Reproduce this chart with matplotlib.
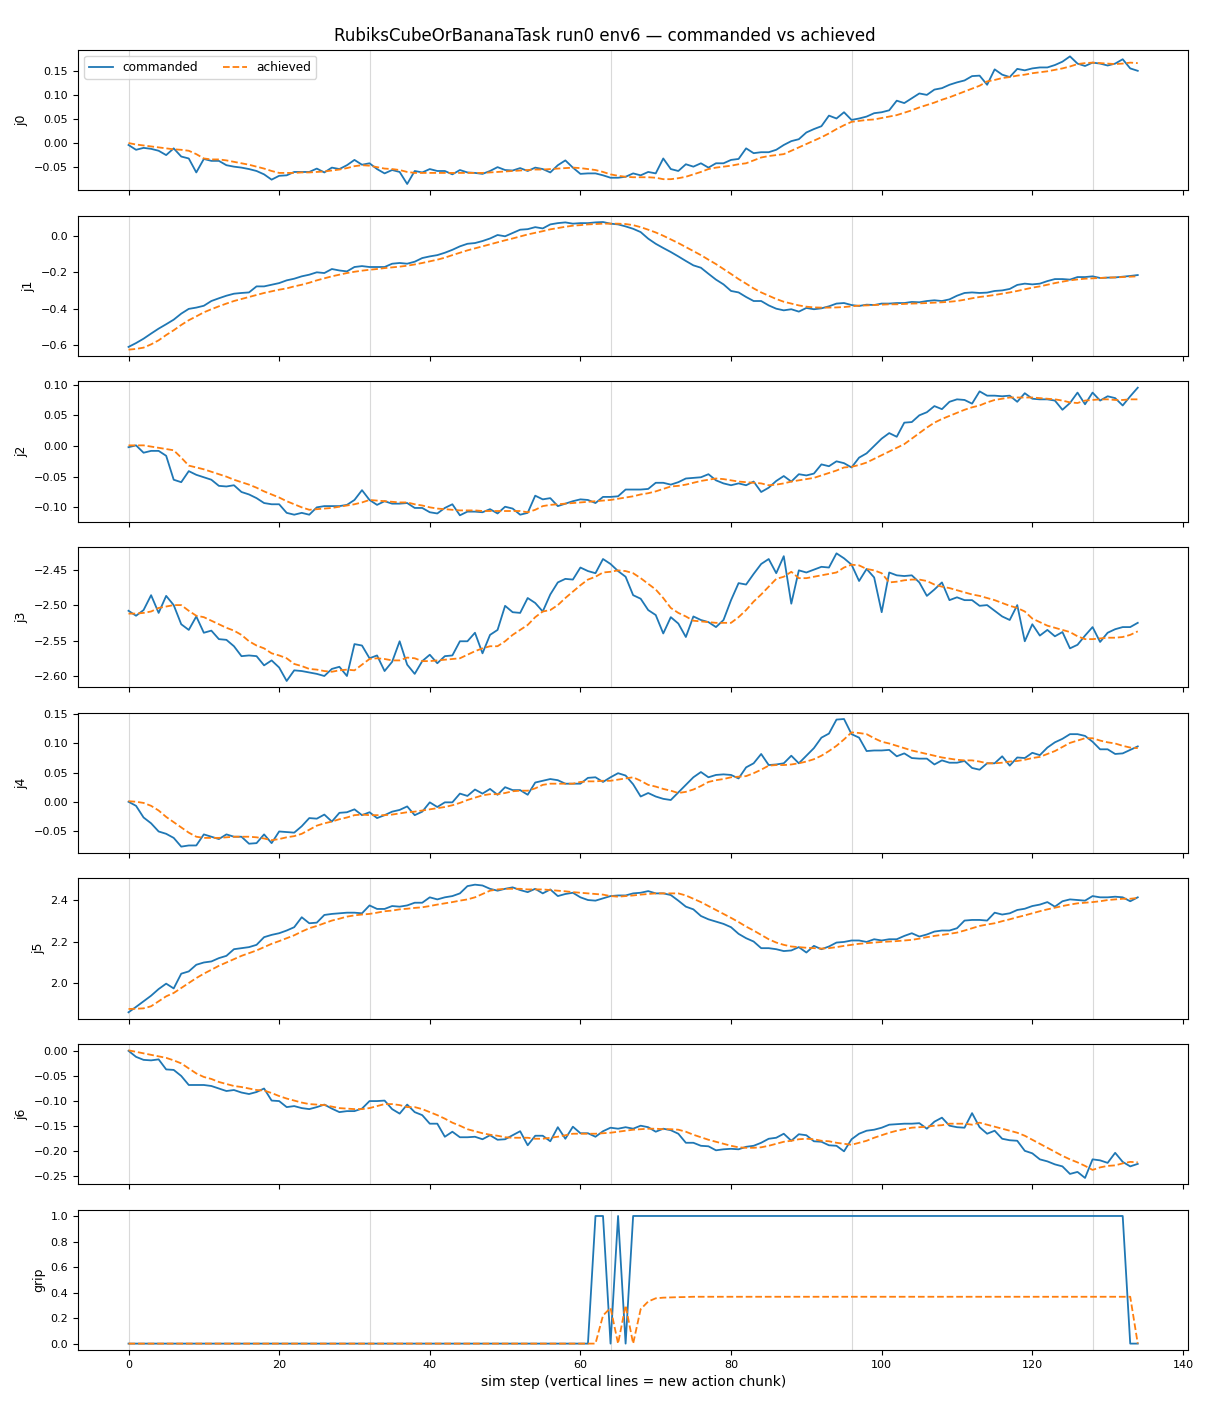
import numpy as np
import matplotlib
matplotlib.use("Agg")
import matplotlib.pyplot as plt

TITLE = "RubiksCubeOrBananaTask run0 env6 \u2014 commanded vs achieved"
JOINT_NAMES = ["j0", "j1", "j2", "j3", "j4", "j5", "j6", "grip"]
CHUNK_STARTS = [0, 32, 64, 96, 128]

# commanded / achieved per joint, one value per sim step (0..134)
j0_cmd = [
    -0.004, -0.014, -0.010, -0.012, -0.016, -0.025, -0.011, -0.028, -0.032, -0.061,
    -0.033, -0.037, -0.037, -0.046, -0.049, -0.051, -0.054, -0.058, -0.065, -0.076,
    -0.068, -0.067, -0.060, -0.060, -0.060, -0.053, -0.061, -0.051, -0.054, -0.046,
    -0.035, -0.045, -0.042, -0.054, -0.063, -0.056, -0.060, -0.085, -0.058, -0.061,
    -0.054, -0.058, -0.058, -0.065, -0.056, -0.061, -0.062, -0.064, -0.058, -0.050,
    -0.056, -0.057, -0.052, -0.058, -0.051, -0.054, -0.061, -0.046, -0.036, -0.051,
    -0.064, -0.063, -0.063, -0.067, -0.072, -0.072, -0.070, -0.063, -0.067, -0.060,
    -0.063, -0.032, -0.054, -0.058, -0.044, -0.049, -0.042, -0.051, -0.042, -0.042,
    -0.035, -0.033, -0.011, -0.021, -0.019, -0.019, -0.014, -0.004, 0.004, 0.008,
    0.022, 0.029, 0.035, 0.057, 0.051, 0.064, 0.048, 0.051, 0.055, 0.062,
    0.064, 0.068, 0.088, 0.083, 0.093, 0.103, 0.100, 0.111, 0.114, 0.121,
    0.126, 0.130, 0.139, 0.140, 0.121, 0.153, 0.142, 0.137, 0.154, 0.151,
    0.155, 0.157, 0.157, 0.162, 0.169, 0.180, 0.165, 0.160, 0.167, 0.165,
    0.161, 0.165, 0.174, 0.155, 0.150,
]
j0_ach = [
    0.000, -0.003, -0.005, -0.007, -0.009, -0.011, -0.013, -0.014, -0.016, -0.023,
    -0.032, -0.034, -0.034, -0.036, -0.039, -0.042, -0.045, -0.049, -0.053, -0.058,
    -0.062, -0.062, -0.062, -0.061, -0.061, -0.060, -0.059, -0.057, -0.055, -0.052,
    -0.048, -0.046, -0.047, -0.050, -0.053, -0.054, -0.056, -0.060, -0.062, -0.062,
    -0.062, -0.062, -0.062, -0.062, -0.062, -0.062, -0.062, -0.062, -0.061, -0.060,
    -0.059, -0.058, -0.057, -0.056, -0.055, -0.055, -0.054, -0.053, -0.052, -0.051,
    -0.052, -0.054, -0.056, -0.060, -0.065, -0.068, -0.070, -0.071, -0.071, -0.071,
    -0.072, -0.075, -0.075, -0.073, -0.070, -0.065, -0.060, -0.054, -0.051, -0.049,
    -0.047, -0.044, -0.042, -0.036, -0.030, -0.027, -0.025, -0.023, -0.016, -0.009,
    -0.002, 0.005, 0.012, 0.020, 0.029, 0.037, 0.044, 0.046, 0.048, 0.049,
    0.052, 0.055, 0.058, 0.063, 0.068, 0.074, 0.079, 0.084, 0.090, 0.095,
    0.101, 0.107, 0.113, 0.119, 0.128, 0.131, 0.135, 0.137, 0.140, 0.142,
    0.145, 0.147, 0.149, 0.152, 0.155, 0.159, 0.164, 0.166, 0.167, 0.166,
    0.165, 0.164, 0.165, 0.167, 0.166,
]

j1_cmd = [
    -0.608, -0.587, -0.563, -0.535, -0.508, -0.484, -0.459, -0.426, -0.400, -0.393,
    -0.383, -0.357, -0.342, -0.328, -0.317, -0.313, -0.310, -0.277, -0.277, -0.268,
    -0.259, -0.244, -0.235, -0.222, -0.213, -0.200, -0.204, -0.182, -0.190, -0.195,
    -0.171, -0.166, -0.171, -0.171, -0.171, -0.153, -0.149, -0.153, -0.142, -0.122,
    -0.113, -0.106, -0.093, -0.077, -0.058, -0.044, -0.040, -0.029, -0.015, 0.004,
    -0.003, 0.015, 0.033, 0.036, 0.047, 0.040, 0.062, 0.069, 0.073, 0.066,
    0.069, 0.069, 0.073, 0.075, 0.066, 0.062, 0.051, 0.038, 0.020, -0.016,
    -0.044, -0.067, -0.089, -0.113, -0.138, -0.162, -0.175, -0.208, -0.240, -0.266,
    -0.302, -0.310, -0.335, -0.357, -0.357, -0.381, -0.399, -0.408, -0.402, -0.415,
    -0.395, -0.402, -0.397, -0.386, -0.371, -0.368, -0.379, -0.384, -0.377, -0.379,
    -0.371, -0.371, -0.368, -0.368, -0.362, -0.364, -0.357, -0.353, -0.357, -0.348,
    -0.328, -0.313, -0.310, -0.313, -0.311, -0.302, -0.299, -0.291, -0.269, -0.262,
    -0.266, -0.262, -0.248, -0.237, -0.237, -0.240, -0.226, -0.226, -0.222, -0.231,
    -0.229, -0.228, -0.224, -0.220, -0.215,
]
j1_ach = [
    -0.623, -0.619, -0.612, -0.594, -0.572, -0.543, -0.517, -0.488, -0.462, -0.441,
    -0.419, -0.402, -0.386, -0.371, -0.357, -0.346, -0.335, -0.324, -0.313, -0.304,
    -0.295, -0.288, -0.277, -0.268, -0.257, -0.244, -0.233, -0.222, -0.213, -0.204,
    -0.197, -0.191, -0.186, -0.182, -0.177, -0.173, -0.169, -0.164, -0.157, -0.149,
    -0.140, -0.131, -0.120, -0.106, -0.093, -0.080, -0.069, -0.058, -0.047, -0.036,
    -0.025, -0.015, -0.004, 0.007, 0.016, 0.025, 0.035, 0.042, 0.049, 0.055,
    0.058, 0.062, 0.064, 0.066, 0.066, 0.066, 0.064, 0.058, 0.047, 0.033,
    0.018, 0.000, -0.020, -0.040, -0.062, -0.084, -0.106, -0.131, -0.155, -0.182,
    -0.209, -0.237, -0.262, -0.288, -0.310, -0.328, -0.346, -0.361, -0.371, -0.381,
    -0.388, -0.392, -0.393, -0.393, -0.392, -0.390, -0.386, -0.382, -0.381, -0.379,
    -0.377, -0.375, -0.375, -0.373, -0.371, -0.370, -0.368, -0.366, -0.364, -0.361,
    -0.357, -0.350, -0.342, -0.335, -0.330, -0.324, -0.317, -0.310, -0.302, -0.293,
    -0.284, -0.277, -0.268, -0.259, -0.251, -0.244, -0.239, -0.235, -0.233, -0.231,
    -0.229, -0.228, -0.226, -0.224, -0.222,
]

j2_cmd = [
    -0.002, 0.001, -0.011, -0.008, -0.008, -0.016, -0.055, -0.059, -0.041, -0.047,
    -0.051, -0.055, -0.065, -0.066, -0.064, -0.075, -0.079, -0.085, -0.093, -0.095,
    -0.095, -0.109, -0.112, -0.109, -0.112, -0.100, -0.098, -0.098, -0.098, -0.096,
    -0.088, -0.072, -0.088, -0.096, -0.090, -0.094, -0.094, -0.093, -0.101, -0.101,
    -0.108, -0.110, -0.101, -0.095, -0.113, -0.107, -0.107, -0.108, -0.103, -0.110,
    -0.099, -0.102, -0.112, -0.109, -0.081, -0.087, -0.085, -0.098, -0.094, -0.090,
    -0.087, -0.088, -0.093, -0.083, -0.083, -0.082, -0.071, -0.071, -0.071, -0.070,
    -0.060, -0.060, -0.063, -0.059, -0.053, -0.052, -0.051, -0.046, -0.056, -0.061,
    -0.064, -0.061, -0.064, -0.058, -0.075, -0.068, -0.057, -0.049, -0.058, -0.046,
    -0.048, -0.045, -0.030, -0.033, -0.025, -0.028, -0.035, -0.019, -0.012, 0.000,
    0.012, 0.021, 0.015, 0.038, 0.039, 0.050, 0.055, 0.065, 0.060, 0.072,
    0.076, 0.075, 0.069, 0.089, 0.082, 0.082, 0.081, 0.082, 0.072, 0.086,
    0.077, 0.076, 0.076, 0.074, 0.059, 0.070, 0.087, 0.068, 0.087, 0.074,
    0.081, 0.078, 0.066, 0.081, 0.095,
]
j2_ach = [
    0.001, 0.001, 0.001, -0.001, -0.003, -0.005, -0.007, -0.019, -0.032, -0.035,
    -0.038, -0.042, -0.046, -0.050, -0.055, -0.059, -0.063, -0.068, -0.074, -0.079,
    -0.084, -0.090, -0.095, -0.100, -0.104, -0.103, -0.102, -0.101, -0.099, -0.097,
    -0.095, -0.092, -0.088, -0.089, -0.090, -0.091, -0.092, -0.092, -0.095, -0.097,
    -0.100, -0.102, -0.103, -0.104, -0.105, -0.105, -0.105, -0.106, -0.106, -0.106,
    -0.106, -0.106, -0.106, -0.108, -0.104, -0.098, -0.096, -0.095, -0.094, -0.093,
    -0.092, -0.091, -0.090, -0.089, -0.088, -0.086, -0.084, -0.082, -0.079, -0.077,
    -0.074, -0.070, -0.066, -0.065, -0.063, -0.060, -0.057, -0.055, -0.053, -0.054,
    -0.056, -0.058, -0.059, -0.060, -0.061, -0.064, -0.063, -0.061, -0.058, -0.056,
    -0.054, -0.052, -0.048, -0.044, -0.040, -0.035, -0.034, -0.031, -0.027, -0.021,
    -0.015, -0.009, -0.003, 0.003, 0.012, 0.021, 0.030, 0.038, 0.044, 0.049,
    0.054, 0.059, 0.063, 0.066, 0.071, 0.075, 0.077, 0.079, 0.079, 0.079,
    0.079, 0.078, 0.077, 0.076, 0.074, 0.071, 0.070, 0.074, 0.075, 0.076,
    0.076, 0.075, 0.075, 0.076, 0.076,
]

j3_cmd = [
    -2.508, -2.515, -2.507, -2.486, -2.511, -2.487, -2.500, -2.527, -2.535, -2.516,
    -2.539, -2.536, -2.548, -2.549, -2.558, -2.572, -2.571, -2.572, -2.585, -2.578,
    -2.588, -2.607, -2.592, -2.593, -2.595, -2.597, -2.600, -2.590, -2.587, -2.600,
    -2.555, -2.557, -2.575, -2.571, -2.593, -2.580, -2.551, -2.584, -2.597, -2.579,
    -2.570, -2.582, -2.572, -2.571, -2.551, -2.551, -2.539, -2.568, -2.542, -2.535,
    -2.501, -2.510, -2.511, -2.490, -2.497, -2.509, -2.485, -2.468, -2.463, -2.464,
    -2.447, -2.452, -2.455, -2.435, -2.442, -2.452, -2.460, -2.486, -2.491, -2.507,
    -2.514, -2.540, -2.517, -2.526, -2.545, -2.516, -2.521, -2.524, -2.531, -2.521,
    -2.493, -2.469, -2.471, -2.456, -2.442, -2.435, -2.455, -2.431, -2.498, -2.451,
    -2.454, -2.450, -2.446, -2.447, -2.427, -2.434, -2.443, -2.466, -2.449, -2.461,
    -2.510, -2.454, -2.458, -2.459, -2.458, -2.468, -2.487, -2.478, -2.468, -2.493,
    -2.489, -2.493, -2.493, -2.501, -2.500, -2.508, -2.516, -2.521, -2.500, -2.551,
    -2.527, -2.543, -2.535, -2.544, -2.538, -2.561, -2.556, -2.543, -2.531, -2.552,
    -2.539, -2.534, -2.531, -2.531, -2.525,
]
j3_ach = [
    -2.512, -2.512, -2.511, -2.509, -2.504, -2.502, -2.500, -2.500, -2.508, -2.515,
    -2.517, -2.522, -2.527, -2.532, -2.536, -2.542, -2.551, -2.557, -2.561, -2.568,
    -2.571, -2.575, -2.583, -2.586, -2.590, -2.591, -2.593, -2.594, -2.592, -2.591,
    -2.592, -2.584, -2.576, -2.575, -2.576, -2.578, -2.578, -2.574, -2.575, -2.579,
    -2.579, -2.578, -2.577, -2.576, -2.575, -2.570, -2.565, -2.561, -2.558, -2.558,
    -2.551, -2.542, -2.535, -2.528, -2.517, -2.509, -2.507, -2.500, -2.490, -2.481,
    -2.472, -2.464, -2.460, -2.454, -2.453, -2.451, -2.452, -2.455, -2.462, -2.470,
    -2.478, -2.490, -2.504, -2.511, -2.516, -2.522, -2.523, -2.524, -2.525, -2.525,
    -2.525, -2.517, -2.507, -2.495, -2.485, -2.474, -2.463, -2.460, -2.453, -2.462,
    -2.462, -2.460, -2.458, -2.456, -2.454, -2.447, -2.443, -2.444, -2.449, -2.451,
    -2.455, -2.468, -2.467, -2.465, -2.464, -2.464, -2.466, -2.471, -2.474, -2.476,
    -2.479, -2.482, -2.485, -2.487, -2.490, -2.493, -2.497, -2.501, -2.504, -2.509,
    -2.519, -2.524, -2.529, -2.532, -2.535, -2.538, -2.544, -2.548, -2.548, -2.547,
    -2.546, -2.546, -2.545, -2.542, -2.537,
]

j4_cmd = [
    0.000, -0.007, -0.027, -0.037, -0.051, -0.055, -0.062, -0.077, -0.075, -0.075,
    -0.056, -0.060, -0.064, -0.056, -0.060, -0.060, -0.072, -0.071, -0.056, -0.071,
    -0.051, -0.052, -0.053, -0.042, -0.028, -0.029, -0.022, -0.034, -0.019, -0.018,
    -0.013, -0.023, -0.018, -0.028, -0.023, -0.017, -0.014, -0.008, -0.023, -0.017,
    -0.001, -0.009, -0.001, -0.001, 0.014, 0.010, 0.021, 0.014, 0.022, 0.012,
    0.025, 0.020, 0.020, 0.012, 0.033, 0.036, 0.039, 0.037, 0.031, 0.031,
    0.031, 0.041, 0.042, 0.034, 0.042, 0.049, 0.045, 0.030, 0.009, 0.015,
    0.009, 0.005, 0.003, 0.016, 0.029, 0.042, 0.051, 0.042, 0.046, 0.047,
    0.046, 0.040, 0.059, 0.066, 0.082, 0.063, 0.064, 0.066, 0.079, 0.066,
    0.079, 0.092, 0.110, 0.117, 0.141, 0.142, 0.116, 0.110, 0.087, 0.088,
    0.088, 0.089, 0.078, 0.083, 0.075, 0.074, 0.074, 0.064, 0.071, 0.067,
    0.067, 0.070, 0.058, 0.055, 0.066, 0.066, 0.078, 0.062, 0.076, 0.075,
    0.084, 0.080, 0.093, 0.102, 0.108, 0.116, 0.116, 0.113, 0.103, 0.090,
    0.090, 0.082, 0.083, 0.089, 0.095,
]
j4_ach = [
    0.001, 0.000, -0.002, -0.007, -0.015, -0.026, -0.035, -0.044, -0.053, -0.060,
    -0.062, -0.062, -0.062, -0.061, -0.060, -0.060, -0.060, -0.061, -0.063, -0.066,
    -0.064, -0.061, -0.059, -0.055, -0.048, -0.041, -0.037, -0.034, -0.030, -0.027,
    -0.023, -0.022, -0.023, -0.023, -0.023, -0.022, -0.020, -0.018, -0.017, -0.015,
    -0.013, -0.011, -0.009, -0.006, -0.002, 0.003, 0.007, 0.011, 0.013, 0.013,
    0.015, 0.018, 0.019, 0.019, 0.023, 0.029, 0.031, 0.031, 0.031, 0.031,
    0.034, 0.035, 0.035, 0.036, 0.036, 0.038, 0.040, 0.042, 0.036, 0.029,
    0.026, 0.022, 0.019, 0.015, 0.017, 0.021, 0.027, 0.034, 0.037, 0.039,
    0.042, 0.043, 0.044, 0.049, 0.055, 0.062, 0.063, 0.063, 0.064, 0.066,
    0.069, 0.073, 0.079, 0.087, 0.096, 0.107, 0.119, 0.118, 0.116, 0.109,
    0.103, 0.100, 0.096, 0.092, 0.088, 0.085, 0.082, 0.079, 0.076, 0.074,
    0.072, 0.071, 0.071, 0.069, 0.066, 0.066, 0.067, 0.069, 0.070, 0.072,
    0.075, 0.077, 0.082, 0.087, 0.094, 0.101, 0.105, 0.109, 0.109, 0.105,
    0.102, 0.100, 0.096, 0.093, 0.092,
]

j5_cmd = [
    1.859, 1.885, 1.912, 1.939, 1.971, 1.997, 1.974, 2.045, 2.056, 2.088,
    2.099, 2.104, 2.120, 2.131, 2.163, 2.168, 2.173, 2.184, 2.221, 2.232,
    2.240, 2.253, 2.269, 2.317, 2.288, 2.291, 2.328, 2.333, 2.336, 2.339,
    2.339, 2.336, 2.374, 2.357, 2.357, 2.371, 2.368, 2.374, 2.387, 2.387,
    2.413, 2.403, 2.413, 2.419, 2.432, 2.467, 2.474, 2.470, 2.454, 2.445,
    2.454, 2.461, 2.448, 2.438, 2.454, 2.432, 2.451, 2.419, 2.429, 2.435,
    2.413, 2.400, 2.397, 2.408, 2.419, 2.422, 2.422, 2.432, 2.435, 2.443,
    2.432, 2.432, 2.424, 2.397, 2.368, 2.355, 2.323, 2.307, 2.296, 2.285,
    2.269, 2.237, 2.216, 2.200, 2.168, 2.168, 2.163, 2.154, 2.157, 2.173,
    2.147, 2.179, 2.163, 2.176, 2.195, 2.198, 2.205, 2.205, 2.198, 2.211,
    2.205, 2.211, 2.211, 2.227, 2.240, 2.224, 2.234, 2.248, 2.253, 2.253,
    2.264, 2.301, 2.304, 2.304, 2.301, 2.339, 2.330, 2.336, 2.352, 2.358,
    2.371, 2.378, 2.390, 2.368, 2.394, 2.403, 2.400, 2.397, 2.419, 2.413,
    2.413, 2.416, 2.413, 2.394, 2.413,
]
j5_ach = [
    1.875, 1.876, 1.878, 1.888, 1.912, 1.936, 1.952, 1.976, 2.000, 2.024,
    2.045, 2.064, 2.083, 2.099, 2.115, 2.131, 2.144, 2.157, 2.173, 2.189,
    2.202, 2.216, 2.230, 2.248, 2.264, 2.275, 2.288, 2.301, 2.310, 2.320,
    2.326, 2.330, 2.333, 2.339, 2.346, 2.349, 2.355, 2.358, 2.362, 2.365,
    2.371, 2.378, 2.384, 2.390, 2.397, 2.403, 2.413, 2.429, 2.445, 2.451,
    2.454, 2.454, 2.454, 2.451, 2.451, 2.451, 2.448, 2.445, 2.442, 2.438,
    2.435, 2.432, 2.429, 2.426, 2.419, 2.416, 2.419, 2.422, 2.426, 2.429,
    2.432, 2.432, 2.432, 2.432, 2.422, 2.406, 2.390, 2.371, 2.352, 2.333,
    2.314, 2.294, 2.272, 2.253, 2.232, 2.211, 2.195, 2.184, 2.176, 2.173,
    2.170, 2.168, 2.166, 2.168, 2.173, 2.179, 2.184, 2.189, 2.192, 2.195,
    2.198, 2.200, 2.202, 2.205, 2.208, 2.214, 2.221, 2.227, 2.232, 2.237,
    2.243, 2.253, 2.264, 2.275, 2.282, 2.288, 2.298, 2.307, 2.317, 2.326,
    2.336, 2.346, 2.355, 2.363, 2.371, 2.378, 2.384, 2.387, 2.390, 2.394,
    2.400, 2.403, 2.406, 2.406, 2.410,
]

j6_cmd = [
    0.000, -0.012, -0.018, -0.019, -0.017, -0.037, -0.038, -0.050, -0.068, -0.068,
    -0.068, -0.070, -0.075, -0.080, -0.078, -0.083, -0.086, -0.082, -0.075, -0.099,
    -0.100, -0.112, -0.110, -0.114, -0.116, -0.112, -0.107, -0.115, -0.122, -0.120,
    -0.120, -0.115, -0.100, -0.100, -0.099, -0.116, -0.125, -0.107, -0.122, -0.128,
    -0.145, -0.145, -0.171, -0.161, -0.172, -0.172, -0.171, -0.176, -0.168, -0.177,
    -0.176, -0.168, -0.160, -0.188, -0.169, -0.169, -0.180, -0.152, -0.175, -0.151,
    -0.164, -0.164, -0.171, -0.160, -0.153, -0.155, -0.152, -0.155, -0.149, -0.152,
    -0.161, -0.155, -0.158, -0.165, -0.183, -0.183, -0.189, -0.190, -0.198, -0.196,
    -0.195, -0.196, -0.191, -0.189, -0.183, -0.175, -0.173, -0.165, -0.179, -0.166,
    -0.168, -0.180, -0.181, -0.188, -0.189, -0.200, -0.176, -0.165, -0.159, -0.157,
    -0.153, -0.147, -0.146, -0.145, -0.145, -0.144, -0.155, -0.141, -0.133, -0.149,
    -0.152, -0.153, -0.124, -0.152, -0.165, -0.159, -0.175, -0.178, -0.179, -0.199,
    -0.204, -0.216, -0.220, -0.226, -0.230, -0.245, -0.241, -0.253, -0.216, -0.218,
    -0.223, -0.203, -0.221, -0.230, -0.225,
]
j6_ach = [
    0.001, -0.002, -0.005, -0.008, -0.011, -0.014, -0.019, -0.025, -0.035, -0.045,
    -0.052, -0.056, -0.062, -0.066, -0.070, -0.072, -0.075, -0.078, -0.079, -0.084,
    -0.090, -0.095, -0.099, -0.103, -0.106, -0.107, -0.108, -0.111, -0.114, -0.115,
    -0.116, -0.116, -0.114, -0.110, -0.106, -0.106, -0.108, -0.112, -0.112, -0.116,
    -0.122, -0.128, -0.135, -0.143, -0.149, -0.156, -0.160, -0.164, -0.167, -0.169,
    -0.172, -0.173, -0.173, -0.173, -0.175, -0.175, -0.173, -0.171, -0.168, -0.165,
    -0.165, -0.165, -0.165, -0.164, -0.163, -0.161, -0.159, -0.157, -0.156, -0.155,
    -0.155, -0.156, -0.156, -0.157, -0.161, -0.167, -0.172, -0.177, -0.181, -0.185,
    -0.189, -0.192, -0.193, -0.193, -0.192, -0.189, -0.185, -0.181, -0.179, -0.176,
    -0.175, -0.176, -0.179, -0.180, -0.183, -0.185, -0.187, -0.183, -0.179, -0.173,
    -0.168, -0.163, -0.159, -0.156, -0.153, -0.152, -0.151, -0.149, -0.148, -0.145,
    -0.145, -0.145, -0.147, -0.143, -0.147, -0.151, -0.155, -0.159, -0.163, -0.169,
    -0.177, -0.185, -0.193, -0.201, -0.209, -0.216, -0.222, -0.229, -0.237, -0.232,
    -0.229, -0.228, -0.224, -0.221, -0.222,
]

grip_cmd = [
    0, 0, 0, 0, 0, 0, 0, 0, 0, 0,
    0, 0, 0, 0, 0, 0, 0, 0, 0, 0,
    0, 0, 0, 0, 0, 0, 0, 0, 0, 0,
    0, 0, 0, 0, 0, 0, 0, 0, 0, 0,
    0, 0, 0, 0, 0, 0, 0, 0, 0, 0,
    0, 0, 0, 0, 0, 0, 0, 0, 0, 0,
    0, 0, 1, 1, 0, 1, 0, 1, 1, 1,
    1, 1, 1, 1, 1, 1, 1, 1, 1, 1,
    1, 1, 1, 1, 1, 1, 1, 1, 1, 1,
    1, 1, 1, 1, 1, 1, 1, 1, 1, 1,
    1, 1, 1, 1, 1, 1, 1, 1, 1, 1,
    1, 1, 1, 1, 1, 1, 1, 1, 1, 1,
    1, 1, 1, 1, 1, 1, 1, 1, 1, 1,
    1, 1, 1, 0, 0,
]
grip_ach = [
    0, 0, 0, 0, 0, 0, 0, 0, 0, 0,
    0, 0, 0, 0, 0, 0, 0, 0, 0, 0,
    0, 0, 0, 0, 0, 0, 0, 0, 0, 0,
    0, 0, 0, 0, 0, 0, 0, 0, 0, 0,
    0, 0, 0, 0, 0, 0, 0, 0, 0, 0,
    0, 0, 0, 0, 0, 0, 0, 0, 0, 0,
    0, 0, 0, 0.22, 0.28, 0.0, 0.30, 0.0, 0.27, 0.33,
    0.355, 0.36, 0.362, 0.364, 0.365, 0.367, 0.367, 0.367, 0.367, 0.367,
    0.367, 0.367, 0.367, 0.367, 0.367, 0.367, 0.367, 0.367, 0.367, 0.367,
    0.367, 0.367, 0.367, 0.367, 0.367, 0.367, 0.367, 0.367, 0.367, 0.367,
    0.367, 0.367, 0.367, 0.367, 0.367, 0.367, 0.367, 0.367, 0.367, 0.367,
    0.367, 0.367, 0.367, 0.367, 0.367, 0.367, 0.367, 0.367, 0.367, 0.367,
    0.367, 0.367, 0.367, 0.367, 0.367, 0.367, 0.367, 0.367, 0.367, 0.367,
    0.367, 0.367, 0.367, 0.367, 0.0,
]

commanded = [j0_cmd, j1_cmd, j2_cmd, j3_cmd, j4_cmd, j5_cmd, j6_cmd, grip_cmd]
achieved = [j0_ach, j1_ach, j2_ach, j3_ach, j4_ach, j5_ach, j6_ach, grip_ach]


fig, axes = plt.subplots(len(JOINT_NAMES), 1, figsize=(12.1, 14.08), dpi=100, sharex=True)
fig.subplots_adjust(left=0.0645, right=0.982, top=0.9645, bottom=0.0412, hspace=0.18)

for ax, name, cmd, ach in zip(axes, JOINT_NAMES, commanded, achieved):
    for s in CHUNK_STARTS:
        ax.axvline(s, color="0.85", linewidth=0.8, zorder=0)
    ax.plot(np.arange(len(cmd)), cmd, color="C0", linewidth=1.3, label="commanded")
    ax.plot(np.arange(len(ach)), ach, color="C1", linestyle="--", linewidth=1.3, label="achieved")
    ax.set_ylabel(name, fontsize=9)
    ax.tick_params(labelsize=8)

axes[0].legend(loc="upper left", ncol=2, fontsize=8.7)
axes[-1].set_xlabel("sim step (vertical lines = new action chunk)", fontsize=10)
fig.suptitle(TITLE, fontsize=12, y=0.981)

fig.savefig("out.png", dpi=100)
